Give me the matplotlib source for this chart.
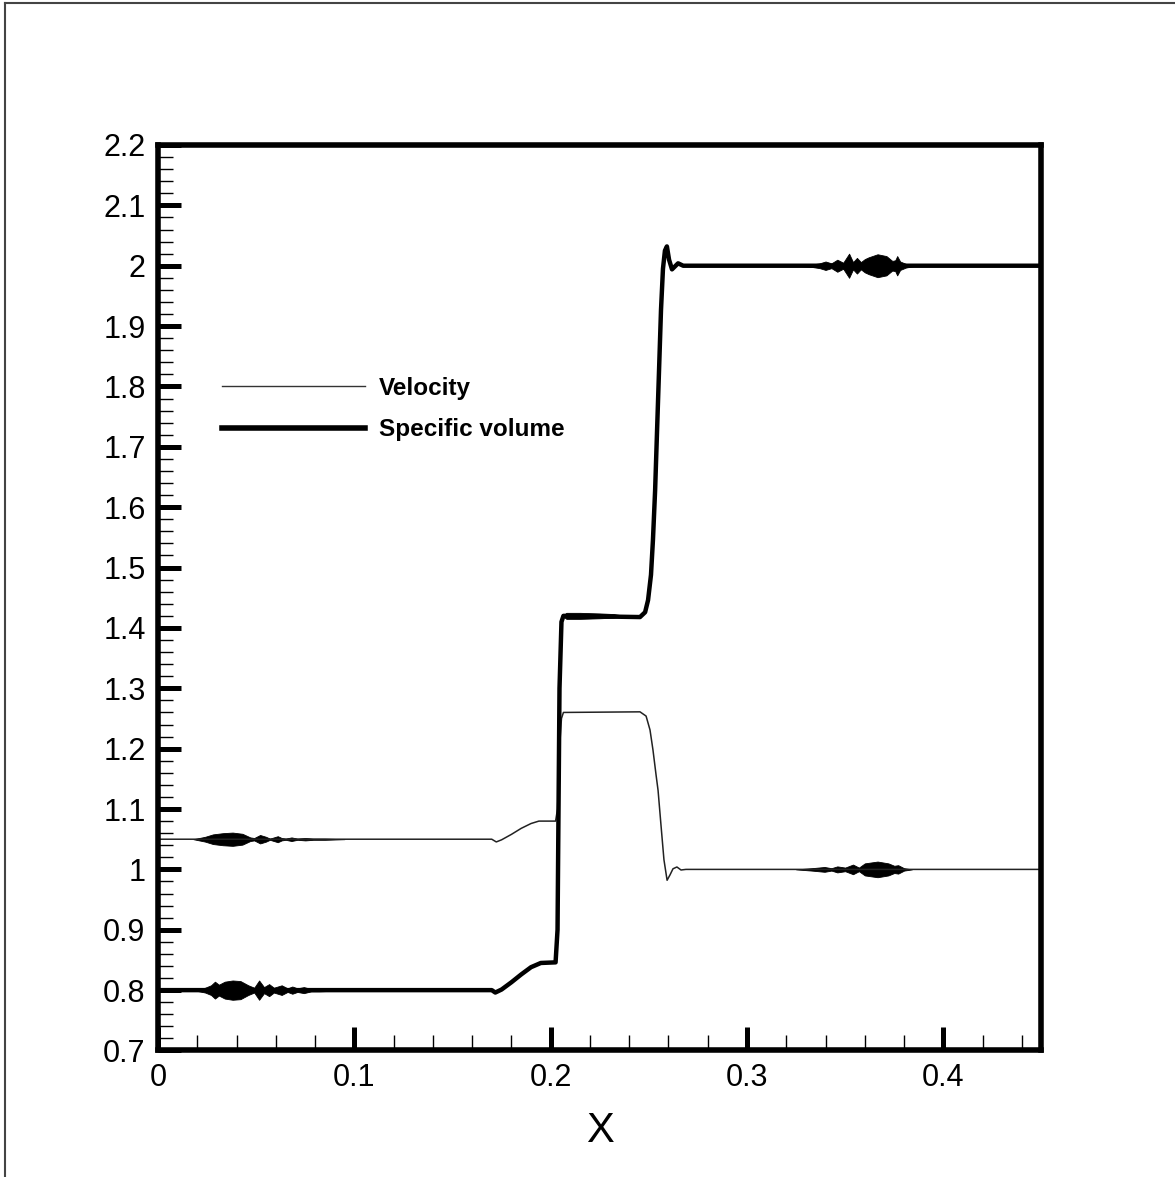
import numpy as np
import matplotlib
matplotlib.use('Agg')
import matplotlib.pyplot as plt
from matplotlib.lines import Line2D
from matplotlib.ticker import MultipleLocator, FuncFormatter

# --- data ---
# velocity (thin line)
vel_x = [0.0, 0.170, 0.1723, 0.175, 0.180, 0.185, 0.190, 0.194, 0.2025,
         0.2035, 0.2045, 0.2055, 0.2065, 0.2455, 0.2486, 0.2506, 0.2521,
         0.2537, 0.2547, 0.2562, 0.2577, 0.2593, 0.2608, 0.2623, 0.2643,
         0.2664, 0.2689, 0.45]
vel_y = [1.05, 1.05, 1.0455, 1.049, 1.058, 1.068, 1.076, 1.080, 1.080,
         1.10, 1.20, 1.25, 1.26, 1.261, 1.254, 1.231, 1.198,
         1.156, 1.131, 1.073, 1.016, 0.982, 0.991, 1.001, 1.004,
         0.999, 1.0, 1.0]

# specific volume (thick line)
sv_x = [0.0, 0.170, 0.1718, 0.175, 0.180, 0.185, 0.190, 0.195, 0.2025,
        0.2035, 0.2045, 0.2055, 0.2065, 0.2455, 0.2481, 0.2496, 0.2511,
        0.2521, 0.2532, 0.2542, 0.2552, 0.2562, 0.2572, 0.2582, 0.2592,
        0.2603, 0.2618, 0.2649, 0.2675, 0.45]
sv_y = [0.80, 0.80, 0.796, 0.801, 0.813, 0.826, 0.838, 0.845, 0.846,
        0.90, 1.30, 1.41, 1.42, 1.418, 1.426, 1.446, 1.488,
        1.546, 1.628, 1.728, 1.827, 1.927, 1.995, 2.025, 2.032,
        2.010, 1.994, 2.004, 2.0, 2.0]

# oscillation packets: base level, x positions, half amplitude of the envelope
vel_pk1_base = 1.05
vel_pk1_x = [0.018, 0.024, 0.028, 0.033, 0.038, 0.043, 0.047, 0.049, 0.052,
             0.055, 0.057, 0.059, 0.061, 0.063, 0.065, 0.068, 0.071, 0.075,
             0.079, 0.085, 0.095]
vel_pk1_a = [0.000, 0.004, 0.008, 0.010, 0.011, 0.009, 0.003, 0.002, 0.007,
             0.004, 0.001, 0.003, 0.005, 0.002, 0.001, 0.003, 0.001, 0.002,
             0.001, 0.001, 0.000]

vel_pk2_base = 1.0
vel_pk2_x = [0.325, 0.333, 0.3395, 0.343, 0.346, 0.350, 0.354, 0.357, 0.360,
             0.3665, 0.372, 0.375, 0.377, 0.380, 0.384]
vel_pk2_a = [0.000, 0.002, 0.004, 0.002, 0.005, 0.003, 0.008, 0.003, 0.010,
             0.013, 0.010, 0.006, 0.007, 0.002, 0.000]

sv_pk1_base = 0.8
sv_pk1_x = [0.018, 0.024, 0.027, 0.029, 0.031, 0.034, 0.038, 0.042, 0.046,
            0.049, 0.0515, 0.054, 0.0566, 0.059, 0.063, 0.066, 0.0684, 0.071,
            0.0743, 0.078, 0.082, 0.090, 0.100]
sv_pk1_a = [0.000, 0.004, 0.008, 0.014, 0.009, 0.014, 0.016, 0.015, 0.008,
            0.004, 0.016, 0.005, 0.010, 0.004, 0.008, 0.003, 0.006, 0.003,
            0.005, 0.002, 0.002, 0.001, 0.000]

sv_pk2_base = 2.0
sv_pk2_x = [0.325, 0.333, 0.337, 0.340, 0.343, 0.346, 0.349, 0.352, 0.354,
            0.356, 0.358, 0.360, 0.362, 0.3665, 0.371, 0.374, 0.3755, 0.3765,
            0.378, 0.381, 0.386]
sv_pk2_a = [0.000, 0.002, 0.004, 0.007, 0.004, 0.010, 0.005, 0.020, 0.006,
            0.013, 0.006, 0.011, 0.014, 0.019, 0.016, 0.008, 0.009, 0.016,
            0.007, 0.003, 0.000]

sv_pk3_base = 1.42
sv_pk3_x = [0.206, 0.208, 0.215, 0.225, 0.232, 0.238]
sv_pk3_a = [0.000, 0.005, 0.005, 0.004, 0.003, 0.000]

packets = [
    (vel_pk1_base, vel_pk1_x, vel_pk1_a),
    (vel_pk2_base, vel_pk2_x, vel_pk2_a),
    (sv_pk1_base, sv_pk1_x, sv_pk1_a),
    (sv_pk2_base, sv_pk2_x, sv_pk2_a),
    (sv_pk3_base, sv_pk3_x, sv_pk3_a),
]

plt.rcParams['font.family'] = ['Liberation Sans', 'DejaVu Sans']

fig = plt.figure(figsize=(11.75, 11.77), dpi=100)
ax = fig.add_axes([0.13447, 0.10748, 0.75191, 0.76933])

ax.plot(vel_x, vel_y, color='#222222', lw=1.1, label='Velocity')
ax.plot(sv_x, sv_y, color='black', lw=3.2, label='Specific volume',
        solid_joinstyle='round')

for base, px, amp in packets:
    px = np.array(px)
    amp = np.array(amp)
    ax.fill_between(px, base - amp, base + amp, color='black', lw=0.6)

ax.set_xlim(0, 0.45)
ax.set_ylim(0.7, 2.2)

ax.xaxis.set_major_locator(MultipleLocator(0.1))
ax.xaxis.set_minor_locator(MultipleLocator(0.02))
ax.yaxis.set_major_locator(MultipleLocator(0.1))
ax.yaxis.set_minor_locator(MultipleLocator(0.02))
fmt = FuncFormatter(lambda v, p: '%g' % round(v, 4))
ax.xaxis.set_major_formatter(fmt)
ax.yaxis.set_major_formatter(fmt)

for s in ax.spines.values():
    s.set_linewidth(4.0)

ax.tick_params(which='major', direction='in', length=16.5, width=3.6,
               top=False, right=False, labelsize=22, pad=9)
ax.tick_params(which='minor', direction='in', length=10.5, width=1.0,
               top=False, right=False)

ax.set_xlabel('X', fontsize=30, labelpad=13)

leg = ax.legend(loc='upper left', bbox_to_anchor=(0.0724, 0.744),
                frameon=False, borderpad=0, borderaxespad=0,
                handlelength=5.9, handletextpad=0.55, labelspacing=0.75,
                prop={'size': 17.5, 'weight': 'bold'})
leg.get_lines()[0].set_color('#333333')
leg.get_lines()[0].set_linewidth(1.0)
leg.get_lines()[1].set_linewidth(4.0)

# page frame (left and top edges)
fig.add_artist(Line2D([0.0043, 0.0043], [0, 0.9975], transform=fig.transFigure,
                      color='#444444', lw=1.5))
fig.add_artist(Line2D([0.0043, 1.0], [0.9975, 0.9975], transform=fig.transFigure,
                      color='#444444', lw=1.5))

fig.savefig('out.png', dpi=100)
